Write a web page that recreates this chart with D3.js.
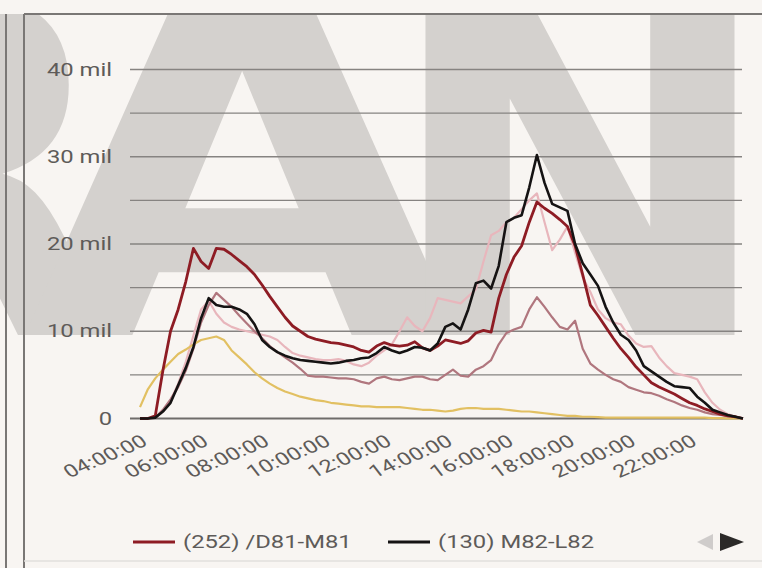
<!DOCTYPE html>
<html>
<head>
<meta charset="utf-8">
<script src="https://cdn.jsdelivr.net/npm/d3@7"></script>
<style>
  html, body { margin: 0; padding: 0; background: #f8f5f2; }
  svg { display: block; }
</style>
</head>
<body>
<svg id="chart" width="762" height="568"></svg>
<script>
// Sampling: every 15 minutes from 04:00 to 23:45
const startMinute = 240;
const stepMinutes = 15;

// Traffic counts per counting station
const seriesRed = [0, 0, 300, 5500, 10000, 12500, 15700, 19500, 18000, 17200, 19500, 19400, 18800, 18100, 17400, 16500, 15300, 14000, 12800, 11600, 10600, 10000, 9400, 9100, 8900, 8700, 8600, 8400, 8200, 7800, 7600, 8300, 8700, 8400, 8300, 8400, 8800, 8100, 7800, 8300, 9000, 8800, 8600, 8900, 9800, 10100, 9900, 13800, 16500, 18500, 19800, 22500, 24800, 24100, 23500, 22800, 22000, 19800, 16500, 13000, 11800, 10500, 9200, 8000, 7000, 5900, 5000, 4100, 3600, 3200, 2800, 2300, 1800, 1500, 1100, 800, 500, 300, 200, 0];
const seriesBlack = [0, 0, 100, 800, 1800, 3800, 5800, 8200, 11500, 13800, 13000, 12800, 12800, 12500, 12000, 10800, 9000, 8200, 7600, 7200, 6900, 6700, 6600, 6500, 6400, 6300, 6400, 6600, 6700, 6900, 7000, 7500, 8200, 7800, 7500, 7800, 8200, 8100, 7800, 8600, 10500, 10900, 10200, 12500, 15500, 15800, 14900, 17500, 22500, 23000, 23300, 26500, 30200, 27000, 24600, 24200, 23800, 20000, 17800, 16500, 15200, 12800, 11000, 9600, 9000, 7800, 6000, 5400, 4800, 4200, 3700, 3600, 3500, 2500, 1800, 1000, 700, 400, 200, 0];
const seriesPink = [0, 0, 100, 800, 2000, 4000, 6500, 9500, 12500, 13500, 12000, 11000, 10500, 10200, 10000, 9800, 9600, 9400, 9000, 8200, 7500, 7200, 7000, 6800, 6700, 6700, 6800, 6600, 6200, 6000, 6400, 7200, 7800, 8500, 10000, 11600, 10600, 10000, 11500, 13800, 13600, 13400, 13200, 14000, 14800, 18000, 21000, 21500, 22500, 23000, 24000, 25000, 25800, 22500, 19300, 20500, 22000, 19000, 16200, 14500, 12500, 11500, 11000, 10800, 9500, 8600, 8200, 8300, 7000, 6000, 5200, 5000, 4800, 4500, 3000, 1800, 1000, 500, 200, 0];
const seriesMauve = [0, 0, 100, 1000, 2200, 3600, 5500, 8000, 11000, 13000, 14400, 13600, 12800, 11800, 10900, 10000, 9200, 8300, 7600, 7000, 6400, 5700, 4900, 4800, 4800, 4700, 4600, 4600, 4500, 4200, 4000, 4600, 4800, 4500, 4400, 4600, 4800, 4800, 4500, 4400, 5000, 5600, 4900, 4800, 5600, 6000, 6700, 8500, 9800, 10200, 10500, 12500, 13900, 12800, 11600, 10500, 10200, 11200, 8000, 6300, 5600, 5000, 4500, 4200, 3600, 3300, 3000, 2900, 2600, 2200, 1900, 1500, 1200, 1000, 700, 500, 400, 300, 200, 0];
const seriesYellow = [1300, 3300, 4600, 5600, 6500, 7400, 7900, 8500, 9000, 9200, 9400, 9000, 7800, 7000, 6200, 5300, 4600, 4000, 3500, 3100, 2800, 2500, 2300, 2100, 2000, 1800, 1700, 1600, 1500, 1400, 1400, 1300, 1300, 1300, 1300, 1200, 1100, 1000, 1000, 900, 800, 900, 1100, 1200, 1200, 1100, 1100, 1100, 1000, 900, 800, 800, 700, 600, 500, 400, 300, 300, 200, 200, 150, 100, 100, 100, 100, 100, 100, 100, 100, 100, 100, 100, 100, 100, 100, 50, 50, 0, 0, 0];

const seriesNames = ["(252) /D81-M81", "(130) M82-L82"];
const tickMinutes = [240, 360, 480, 600, 720, 840, 960, 1080, 1200, 1320];
const tickLabels = ["04:00:00", "06:00:00", "08:00:00", "10:00:00", "12:00:00", "14:00:00", "16:00:00", "18:00:00", "20:00:00", "22:00:00"];
const gridValues = [0, 5000, 10000, 15000, 20000, 25000, 30000, 35000, 40000];
const labelValues = [0, 10000, 20000, 30000, 40000];

const svg = d3.select("#chart");
const W = 762, H = 568;
const textStretch = "scale(1.36,1)";

// Watermark lettering behind the panel
svg.append("clipPath").attr("id", "wm-clip")
  .append("rect").attr("x", 0).attr("y", 14).attr("width", W).attr("height", 322);
const wm = svg.append("g").attr("clip-path", "url(#wm-clip)")
  .attr("font-family", "DejaVu Sans").attr("font-weight", "bold")
  .attr("font-size", 473).attr("fill", "#d4d1ce").attr("text-anchor", "middle");
[["R", -60, 1], ["A", 242, 1.2], ["N", 580, 1]].forEach(([ch, cx, sx]) => {
  wm.append("text").attr("transform", `translate(${cx},335) scale(${sx},1)`).text(ch);
});

// Panel frame
const frame = svg.append("g").attr("stroke", "#7a7775").attr("stroke-width", 2).attr("fill", "none");
frame.append("line").attr("x1", 6).attr("x2", 6).attr("y1", 14).attr("y2", H);
frame.append("line").attr("x1", 24).attr("x2", 24).attr("y1", 14).attr("y2", H);
frame.append("line").attr("x1", 24).attr("x2", W).attr("y1", 14).attr("y2", 14);
svg.append("line").attr("x1", 24).attr("x2", W).attr("y1", 561).attr("y2", 561)
  .attr("stroke", "#e2dfdc").attr("stroke-width", 1.5);

// Scales
const x = d3.scaleLinear().domain([240, 1425]).range([140, 743]);
const y = d3.scaleLinear().domain([0, 40000]).range([418.5, 69.5]);
const gridX0 = 130, gridX1 = 742;

// Horizontal grid
svg.append("g").selectAll("line").data(gridValues).join("line")
  .attr("x1", gridX0).attr("x2", gridX1)
  .attr("y1", d => y(d)).attr("y2", d => y(d))
  .attr("stroke", d => d === 0 ? "#6f6c6a" : "#868381")
  .attr("stroke-width", d => d === 0 ? 2 : 1.4);

// Y axis labels
const yAxis = d3.axisLeft(y).tickValues(labelValues).tickSize(0).tickPadding(0)
  .tickFormat(d => d === 0 ? "0" : (d / 1000) + " mil");
svg.append("g").attr("transform", "translate(112,0)").call(yAxis)
  .call(g => g.select(".domain").remove())
  .call(g => g.selectAll("text").attr("font-family", "Roboto").attr("font-size", 17.5)
    .attr("fill", "#5e5b59").attr("dy", "0.32em").attr("transform", textStretch));

// X axis labels
const xAxis = d3.axisBottom(x).tickValues(tickMinutes).tickSize(0).tickPadding(0)
  .tickFormat((d, i) => tickLabels[i]);
svg.append("g").attr("transform", "translate(0,434)").call(xAxis)
  .call(g => g.select(".domain").remove())
  .call(g => g.selectAll("text").attr("font-family", "Roboto").attr("font-size", 17.5)
    .attr("fill", "#5e5b59").attr("text-anchor", "end")
    .attr("dy", "0.7em").attr("dx", "0")
    .attr("transform", textStretch + " rotate(-30)"));

// Lines
const minutesAt = i => startMinute + i * stepMinutes;
const line = d3.line().x((d, i) => x(minutesAt(i))).y(d => y(d));
const series = [
  { values: seriesPink, color: "#e8b6bc", width: 2.2 },
  { values: seriesMauve, color: "#b0767e", width: 2.2 },
  { values: seriesYellow, color: "#e2c062", width: 2.2 },
  { values: seriesRed, color: "#8e1c24", width: 2.8 },
  { values: seriesBlack, color: "#151313", width: 2.6 }
];
svg.append("g").selectAll("path").data(series).join("path")
  .attr("d", d => line(d.values))
  .attr("fill", "none")
  .attr("stroke", d => d.color)
  .attr("stroke-width", d => d.width)
  .attr("stroke-linejoin", "round");

// Legend
const legend = svg.append("g").attr("font-family", "Roboto").attr("font-size", 17.5).attr("fill", "#5e5b59");
const legendItems = [
  { name: seriesNames[0], color: "#8e1c24", x: 133 },
  { name: seriesNames[1], color: "#151313", x: 388 }
];
legendItems.forEach(it => {
  legend.append("line").attr("x1", it.x).attr("x2", it.x + 42).attr("y1", 542).attr("y2", 542)
    .attr("stroke", it.color).attr("stroke-width", 3);
  legend.append("text").attr("transform", `translate(${it.x + 50},542) ${textStretch}`)
    .attr("dy", "0.35em").text(it.name);
});
// Legend paging arrows
legend.append("path").attr("d", "M713,534 L697,542 L713,550 Z").attr("fill", "#cfcccb");
legend.append("path").attr("d", "M720,533 L744,542 L720,551 Z").attr("fill", "#2b2928");
</script>
</body>
</html>
